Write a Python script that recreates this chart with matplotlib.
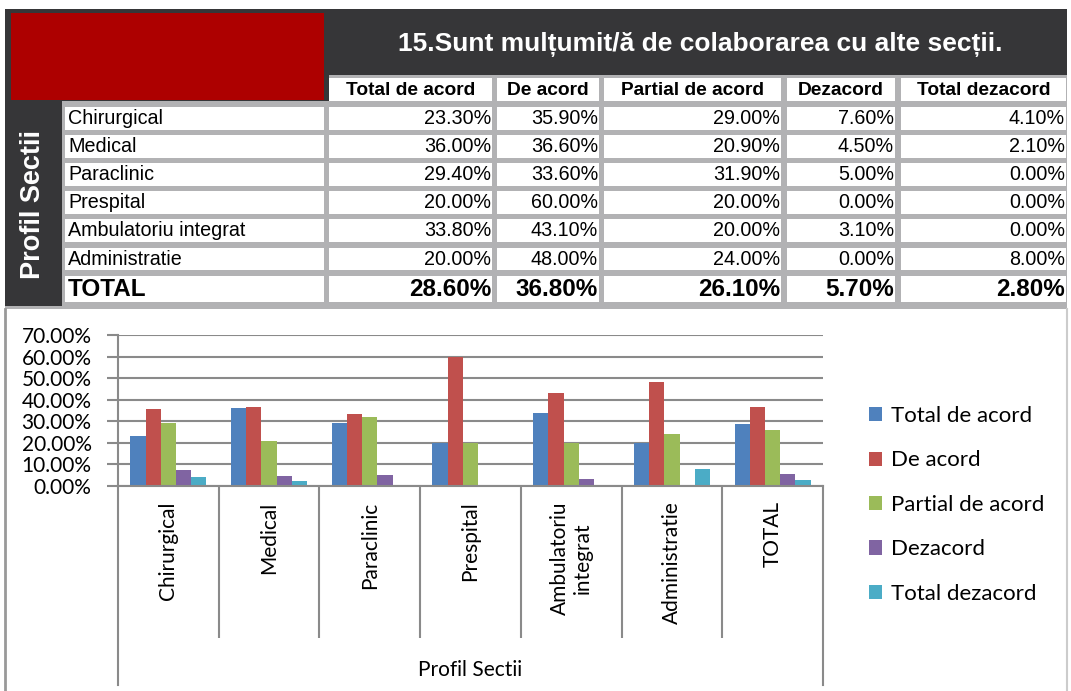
import numpy as np
import matplotlib.pyplot as plt
from matplotlib.patches import Rectangle
from matplotlib.ticker import FuncFormatter

categories = ['Chirurgical', 'Medical', 'Paraclinic', 'Prespital',
              'Ambulatoriu integrat', 'Administratie', 'TOTAL']
chart_labels = ['Chirurgical', 'Medical', 'Paraclinic', 'Prespital',
                'Ambulatoriu\nintegrat', 'Administratie', 'TOTAL']
series_names = ['Total de acord', 'De acord', 'Partial de acord',
                'Dezacord', 'Total dezacord']
total_de_acord = [23.3, 36.0, 29.4, 20.0, 33.8, 20.0, 28.6]
de_acord = [35.9, 36.6, 33.6, 60.0, 43.1, 48.0, 36.8]
partial_de_acord = [29.0, 20.9, 31.9, 20.0, 20.0, 24.0, 26.1]
dezacord = [7.6, 4.5, 5.0, 0.0, 3.1, 0.0, 5.7]
total_dezacord = [4.1, 2.1, 0.0, 0.0, 0.0, 8.0, 2.8]
series = [total_de_acord, de_acord, partial_de_acord, dezacord, total_dezacord]
colors = ['#4F81BD', '#C0504D', '#9BBB59', '#8064A2', '#4BACC6']
title = '15.Sunt mulțumit/ă de colaborarea cu alte secții.'

W, H = 1071, 691
fig = plt.figure(figsize=(W / 100, H / 100), dpi=100)

# ---- background / table drawn in pixel coordinates ----
bg = fig.add_axes([0, 0, 1, 1])
bg.set_xlim(0, W)
bg.set_ylim(H, 0)
bg.axis('off')

DARK = '#363638'
GRAY = '#b2b2b4'
RED = '#ad0000'
tf = 'Liberation Sans'

def rect(x0, y0, x1, y1, color, **kw):
    bg.add_patch(Rectangle((x0, y0), x1 - x0, y1 - y0, facecolor=color,
                           edgecolor='none', **kw))

rect(5, 9, 1067, 309, GRAY)
rect(5, 9, 1067, 75, DARK)
rect(5, 9, 62, 306, DARK)
rect(5, 9, 329, 101, DARK)
rect(11, 13, 324, 100, RED)
bg.text(700, 44, title, color='white', fontsize=19, fontweight='bold',
        ha='center', va='center', family=tf)
bg.text(33, 204, 'Profil Sectii', color='white', fontsize=19.5,
        fontweight='bold', ha='center', va='center', rotation=90, family=tf)

col_edges = [(329, 492), (497, 599), (604, 781), (787, 895), (901, 1066)]
for (x0, x1), name in zip(col_edges, series_names):
    rect(x0, 78, x1, 101, 'white')
    bg.text((x0 + x1) / 2, 90, name, fontsize=13.8, fontweight='bold',
            ha='center', va='center', family=tf)

row_tops = [107, 135, 163, 191, 219, 248, 276]
row_bots = [130, 158, 186, 214, 242, 270, 302]
for r, cat in enumerate(categories):
    y0, y1 = row_tops[r], row_bots[r]
    yc = (y0 + y1) / 2
    total = cat == 'TOTAL'
    rect(65, y0, 324, y1, 'white')
    bg.text(68, yc, cat, fontsize=17.5 if total else 14.2,
            fontweight='bold' if total else 'normal',
            ha='left', va='center', family=tf)
    for c, (x0, x1) in enumerate(col_edges):
        rect(x0, y0, x1, y1, 'white')
        bg.text(x1 - 1, yc, f'{series[c][r]:.2f}%',
                fontsize=17.5 if total else 14.2,
                fontweight='bold' if total else 'normal',
                ha='right', va='center', family=tf)

# chart frame
bg.plot([5, 5], [309, H], color='#999999', lw=2)
bg.plot([1067, 1067], [309, H], color='#cccccc', lw=1.5)

# ---- bar chart ----
plt.rcParams['font.family'] = ['Lato', 'DejaVu Sans']
x0_px, x1_px, top_px, bot_px = 118, 823, 335, 486
ax = fig.add_axes([x0_px / W, 1 - bot_px / H, (x1_px - x0_px) / W,
                   (bot_px - top_px) / H])
ax.set_facecolor('none')
GRID = '#8a8a8a'
x = np.arange(len(categories))
w = 0.151
for i, (vals, name, col) in enumerate(zip(series, series_names, colors)):
    ax.bar(x + (i - 2) * w, np.array(vals) / 100, width=w, color=col,
           label=name, zorder=3)

ax.set_xlim(-0.5, len(categories) - 0.5)
ax.set_ylim(0, 0.7)
ax.set_yticks(np.arange(0, 0.71, 0.1))
ax.yaxis.set_major_formatter(FuncFormatter(lambda v, p: f'{v * 100:.2f}%'))
ax.grid(axis='y', color=GRID, lw=1.5, zorder=0)
ax.tick_params(axis='y', length=8, width=1.5, color=GRID, labelsize=15,
               pad=11)
for s in ['top', 'right', 'bottom']:
    ax.spines[s].set_visible(False)
ax.spines['left'].set_color(GRID)
ax.spines['left'].set_linewidth(1.5)

# category separators (major) and labels (minor)
ax.set_xticks(np.arange(0.5, len(categories) - 1, 1.0))
ax.set_xticklabels([])
ax.tick_params(axis='x', which='major', length=152 * 0.72, width=1.5,
               color=GRID)
ax.set_xticks(x, minor=True)
ax.set_xticklabels(chart_labels, minor=True, rotation=90, fontsize=15)
ax.tick_params(axis='x', which='minor', length=0, pad=11)

h_px = bot_px - top_px
trans = ax.get_xaxis_transform()
ax.plot([-0.5, 6.5], [0, 0], color=GRID, lw=1.5, transform=trans,
        clip_on=False, zorder=4)
for xe in [-0.5, 6.5]:
    ax.plot([xe, xe], [0, -(685 - bot_px) / h_px], color=GRID, lw=1.5,
            transform=trans, clip_on=False)

ax.set_xlabel('Profil Sectii', fontsize=15)
ax.xaxis.set_label_coords(0.5, -(660 - bot_px) / h_px)

fig.legend(loc='upper left', bbox_to_anchor=(849 / W, 1 - 386 / H),
           frameon=False, fontsize=16, handlelength=0.6, handleheight=0.6,
           handletextpad=0.4, labelspacing=1.1)

fig.savefig('out.png', dpi=100)
